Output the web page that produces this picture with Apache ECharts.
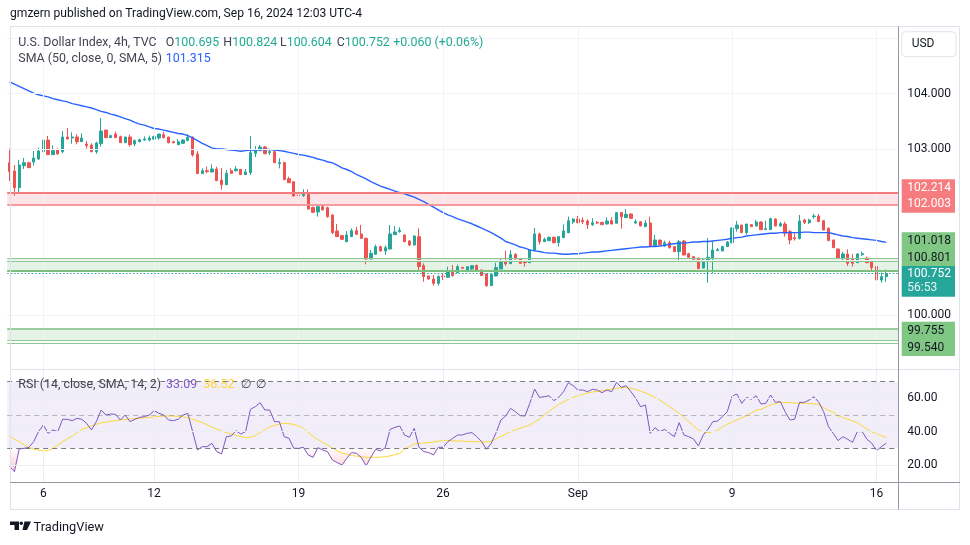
<!DOCTYPE html>
<html><head><meta charset="utf-8">
<script src="https://cdn.jsdelivr.net/npm/echarts@6/dist/echarts.min.js"></script>
<style>html,body{margin:0;padding:0;background:#fff}#c{width:970px;height:545px}</style>
</head><body><div id="c"></div>
<script>
// ---------------- DATA ----------------
const openP = [
102.753,102.603,102.302,102.699,102.753,102.765,102.820,102.952,103.162,102.898,
102.982,102.952,103.217,103.199,103.217,103.132,103.090,103.072,102.952,103.096,
103.343,103.205,103.271,103.223,103.114,103.217,103.090,103.132,103.162,103.162,
103.180,103.199,103.259,103.217,103.132,103.078,103.102,103.156,103.217,102.910,
102.555,102.609,102.585,102.639,102.440,102.356,102.609,102.609,102.633,102.537,
102.573,102.922,102.970,103.036,102.934,102.952,102.735,102.753,102.464,102.410,
102.170,102.158,102.182,101.947,101.863,101.959,101.941,101.809,101.520,101.436,
101.327,101.418,101.526,101.466,101.388,101.014,101.099,101.237,101.159,101.195,
101.454,101.508,101.448,101.339,101.267,101.418,100.894,100.708,100.654,100.575,
100.702,100.684,100.798,100.768,100.864,100.786,100.834,100.900,100.816,100.744,
100.533,100.708,100.834,100.978,100.930,101.099,101.020,100.966,100.948,101.165,
101.466,101.327,101.345,101.406,101.309,101.400,101.490,101.682,101.736,101.712,
101.700,101.634,101.676,101.676,101.646,101.706,101.658,101.851,101.761,101.827,
101.664,101.688,101.598,101.664,101.255,101.357,101.249,101.309,101.237,101.147,
101.339,101.111,101.057,101.032,100.852,100.984,101.032,101.165,101.159,101.237,
101.309,101.562,101.628,101.490,101.634,101.610,101.682,101.544,101.544,101.736,
101.610,101.646,101.508,101.400,101.382,101.718,101.670,101.779,101.791,101.706,
101.568,101.357,101.195,101.032,101.105,101.014,100.948,101.093,101.032,100.966,
100.876,100.635,100.695];
const highP = [
103.012,102.711,102.801,102.838,102.771,102.964,103.024,103.193,103.235,103.066,
103.012,103.325,103.379,103.301,103.265,103.283,103.144,103.102,103.132,103.560,
103.343,103.259,103.313,103.241,103.223,103.259,103.174,103.187,103.229,103.241,
103.241,103.271,103.313,103.217,103.150,103.180,103.174,103.271,103.223,102.964,
102.651,102.681,102.723,102.681,102.657,102.621,102.651,102.693,102.639,102.639,
103.235,103.054,103.072,103.054,102.982,102.964,102.832,102.771,102.501,102.410,
102.182,102.272,102.272,101.959,101.983,102.001,101.959,101.821,101.646,101.448,
101.520,101.568,101.598,101.628,101.400,101.177,101.273,101.255,101.261,101.628,
101.610,101.586,101.460,101.357,101.442,101.568,100.936,100.714,100.726,100.714,
100.744,100.876,100.906,100.912,100.864,100.882,100.894,100.912,100.828,100.756,
100.744,100.948,101.020,101.165,101.177,101.117,101.032,100.972,101.189,101.574,
101.490,101.400,101.418,101.418,101.430,101.640,101.779,101.749,101.791,101.767,
101.730,101.749,101.700,101.676,101.767,101.767,101.863,101.863,101.917,101.833,
101.730,101.694,101.718,101.779,101.448,101.357,101.345,101.345,101.237,101.357,
101.357,101.129,101.063,101.038,101.014,101.393,101.327,101.213,101.255,101.339,
101.586,101.700,101.628,101.646,101.646,101.718,101.694,101.706,101.761,101.749,
101.682,101.688,101.538,101.478,101.809,101.742,101.742,101.827,101.827,101.718,
101.586,101.363,101.201,101.147,101.189,101.105,101.117,101.147,101.057,100.984,
100.894,100.768,100.824];
const lowP = [
102.422,102.158,102.212,102.639,102.657,102.699,102.801,102.922,102.892,102.892,
102.904,102.922,103.180,103.096,103.084,103.126,103.006,102.940,102.916,103.042,
103.199,103.199,103.199,103.108,103.108,103.042,103.054,103.120,103.150,103.138,
103.162,103.168,103.193,103.102,103.102,103.072,103.096,103.138,102.862,102.555,
102.549,102.561,102.579,102.422,102.266,102.350,102.549,102.591,102.537,102.531,
102.531,102.856,102.964,102.904,102.892,102.747,102.651,102.440,102.386,102.140,
102.007,102.134,101.905,101.851,101.779,101.893,101.761,101.466,101.412,101.363,
101.315,101.412,101.448,101.382,100.918,101.008,101.093,101.153,101.087,101.189,
101.448,101.490,101.315,101.249,101.261,100.816,100.605,100.635,100.533,100.533,
100.636,100.678,100.696,100.762,100.846,100.780,100.804,100.792,100.708,100.515,
100.527,100.702,100.828,100.894,100.924,101.008,100.930,100.876,100.942,101.159,
101.279,101.321,101.339,101.297,101.237,101.394,101.478,101.646,101.658,101.646,
101.556,101.610,101.646,101.628,101.640,101.640,101.652,101.562,101.755,101.743,
101.646,101.604,101.592,101.225,101.249,101.267,101.237,101.201,101.141,100.966,
101.081,101.039,101.002,100.834,100.846,100.587,100.756,101.159,101.153,101.231,
101.297,101.508,101.484,101.454,101.592,101.604,101.538,101.544,101.538,101.604,
101.598,101.418,101.279,101.345,101.370,101.646,101.646,101.743,101.682,101.532,
101.339,101.213,101.026,100.996,100.888,100.876,100.942,101.069,100.936,100.798,
100.629,100.587,100.604];
const closeP = [
102.591,102.302,102.711,102.753,102.663,102.838,102.964,103.162,102.898,102.970,
102.910,103.217,103.180,103.217,103.132,103.199,103.060,102.952,103.108,103.325,
103.205,103.241,103.205,103.114,103.217,103.078,103.150,103.168,103.180,103.199,
103.223,103.271,103.205,103.114,103.114,103.132,103.162,103.211,102.892,102.555,
102.609,102.591,102.639,102.428,102.356,102.561,102.561,102.639,102.537,102.585,
102.934,102.982,103.036,102.916,102.952,102.753,102.753,102.446,102.392,102.152,
102.158,102.212,101.917,101.857,101.959,101.899,101.779,101.490,101.418,101.369,
101.448,101.526,101.460,101.388,101.014,101.117,101.237,101.159,101.219,101.466,
101.502,101.532,101.327,101.267,101.430,100.876,100.696,100.654,100.575,100.702,
100.690,100.798,100.714,100.876,100.846,100.876,100.894,100.804,100.714,100.533,
100.738,100.858,100.984,100.924,101.093,101.014,100.936,100.948,101.177,101.466,
101.327,101.369,101.406,101.309,101.418,101.520,101.706,101.736,101.670,101.688,
101.634,101.670,101.664,101.634,101.700,101.646,101.851,101.779,101.821,101.749,
101.688,101.610,101.664,101.249,101.357,101.273,101.309,101.219,101.147,101.327,
101.087,101.045,101.008,100.840,100.996,101.045,101.177,101.183,101.237,101.321,
101.574,101.628,101.490,101.646,101.598,101.682,101.544,101.562,101.742,101.610,
101.652,101.478,101.357,101.382,101.700,101.670,101.718,101.791,101.688,101.538,
101.345,101.219,101.032,101.105,100.936,100.936,101.105,101.111,100.948,100.858,
100.635,100.696,100.752];
const sma50 = [
104.21,104.17,104.13,104.09,104.05,104.01,103.98,103.96,103.94,103.91,
103.89,103.87,103.85,103.82,103.80,103.78,103.76,103.74,103.71,103.68,
103.66,103.63,103.61,103.58,103.55,103.52,103.48,103.45,103.43,103.40,
103.37,103.36,103.34,103.32,103.30,103.28,103.27,103.24,103.20,103.15,
103.10,103.06,103.02,103.00,103.00,102.99,102.98,102.97,102.96,102.97,
102.98,102.98,102.99,102.99,102.99,102.98,102.97,102.96,102.94,102.92,
102.90,102.89,102.87,102.85,102.82,102.80,102.77,102.75,102.71,102.66,
102.63,102.59,102.54,102.50,102.46,102.41,102.37,102.33,102.30,102.27,
102.24,102.21,102.19,102.16,102.13,102.09,102.05,102.00,101.95,101.90,
101.85,101.81,101.78,101.74,101.71,101.68,101.65,101.61,101.57,101.53,
101.49,101.44,101.39,101.33,101.30,101.27,101.23,101.21,101.18,101.16,
101.15,101.13,101.12,101.12,101.11,101.10,101.10,101.11,101.11,101.12,
101.13,101.14,101.14,101.15,101.16,101.17,101.18,101.19,101.20,101.21,
101.22,101.23,101.23,101.24,101.24,101.25,101.26,101.28,101.29,101.30,
101.30,101.31,101.32,101.32,101.33,101.33,101.34,101.35,101.36,101.37,
101.39,101.40,101.41,101.43,101.44,101.45,101.46,101.47,101.48,101.48,
101.49,101.49,101.49,101.49,101.49,101.50,101.50,101.49,101.49,101.49,
101.49,101.47,101.45,101.43,101.42,101.40,101.39,101.38,101.37,101.36,
101.35,101.33,101.315];
const rsi14 = [
19,16,29.6,30,30.5,34,40,44,39,41,
40,47.4,47.4,46.6,48,47.4,45,41,46,53,
50,50.6,50.4,47,50,46,47.4,48.6,49,50,
52.6,51,50,47,46.6,47.4,50,51,40,29,
31,31,33,28,26.6,37,37.4,40.6,38.6,40,
53.4,55,57.4,53,53,46,46,37,36,30,
30,30.6,26,24.6,30.4,29,28,23,21.4,20,
24,27.4,27,24.6,19.4,24.6,29.4,28.4,30.4,41.4,
42.6,43.4,38,36.6,42,30.6,28,27.4,26,30.6,
30.6,34,36,38,38,39,39.4,37,34,29.4,
33,39.4,47,49.4,54,52,49.6,49.4,57,65.6,
60.6,61,61.6,58.6,60.6,64,69.4,67.6,65,65,
64,65.4,65,63.4,65,64,69.6,66.6,67.6,64,
60,55,56,39,42.4,40,41.4,39,37,45.4,
38,37,35.6,31.4,38,41.4,46,46.4,49,52,
61.4,62.6,57,60.6,59.4,61.6,56.6,57,62,57.6,
58,52,47,47.5,57.6,57.6,59,61,57.6,52,
43,39,34.6,37,35.4,33.6,40,40,35.4,33,
28.6,31,33.09];
const rsiSma14 = [
37.4,35.5,34,32,30.6,29.5,28.8,28.5,28.6,30,
32,34,35.8,37.2,39.4,41.3,42.4,43.4,44.4,45.3,
45.7,46.2,46.6,47,47.3,47.6,47.8,48,48.3,48.5,
48.9,49.2,49.4,49.4,49.4,49.2,49,48.3,47.4,46.4,
45.4,44.1,42.8,41.5,40.4,39.4,38.6,37.8,37,36.5,
36.6,37.6,39.5,41,43,43.8,44.5,45,44.8,44.3,
43.4,42,39.5,37.3,35.2,33.5,32,30.2,28.5,27.2,
26.3,25.7,25.3,25,24.6,24.6,24.6,24.7,25,25.4,
26.2,27,29.4,31,32.5,33,33.2,33.4,33.8,34.3,
34.6,34.6,34.5,34.4,34.3,34.1,34,33.9,33.8,33.9,
34.2,35.6,37,38.5,40,41,42,43,44,45.8,
47.4,50,52.2,54.4,56.3,57.8,59.4,60.5,61.5,62.4,
63.2,63.8,64.2,64.6,65.1,65.6,66,66.4,66.6,66,
65.3,64.3,63.3,62,60.6,59,57,55,53,51,
48.5,46,43.5,41,40,39.4,40,40.8,42.8,44.5,
45.8,47,48.3,49.7,51.3,52.8,53.4,54.8,56,57,
57.6,57.5,57.4,57.2,57,57,57,56.7,56.3,54.5,
52.8,51.6,49.6,48.5,47.5,46.5,45.4,43.5,41.6,40,
38.7,37.5,36.52];

const xTickIdx  = [7, 30, 60, 90, 118, 150, 180];
const xTickText = ['6', '12', '19', '26', 'Sep', '9', '16'];
const priceTickLabels = [100, 103, 104];
const priceGridLevels = [100, 101, 102, 103, 104, 105];
const rsiTickLabels = [20, 40, 60];
const rsiBands = [30, 50, 70];
const redZone = [102.214, 102.003];
const greenZone1 = [101.018, 100.801];
const greenZone1Inner = 100.975;
const greenZone2 = [99.755, 99.540];
const greenZone2Inner = 99.505;
const lastOHLC = [100.695, 100.824, 100.604, 100.752];
const changeText = '+0.060 (+0.06%)';
const countdown = '56:53';
const headerText = 'gmzern published on TradingView.com, Sep 16, 2024 12:03 UTC-4';
const titleText = 'U.S. Dollar Index, 4h, TVC';
const smaTitle = 'SMA (50, close, 0, SMA, 5)';
const rsiTitle = 'RSI (14, close, SMA, 14, 2)';

// ---------------- BUILD ----------------
const N = openP.length;
const categories = Array.from({length: N + 2}, (_, i) => String(i));
const candleData = openP.map((o, i) => [o, closeP[i], lowP[i], highP[i]]);
const rsiBelow = rsi14.map(v => Math.min(v, 30));
const FONT = 'Roboto, "Noto Sans", "DejaVu Sans", sans-serif';
const UP = '#26a69a', DOWN = '#ef5350';
const GL = 7.19, GW = 891.1;
const LEG = 12.4;

const noLabel = {show: false};
const baseMark = {silent: true, symbol: ['none', 'none'], label: noLabel, animation: false, emphasis: {disabled: true}};

function hLine(v, color, width, type) { return {yAxis: v, lineStyle: {color, width, type: type || 'solid'}}; }
function vLine(i, color) { return {xAxis: i, lineStyle: {color, width: 1, type: 'solid'}}; }

const option = {
  animation: false,
  backgroundColor: '#ffffff',
  grid: [
    {left: GL, top: 26.7, width: GW, height: 342.6, outerBoundsMode: 'none', containLabel: false},
    {left: GL, top: 369.3, width: GW, height: 113, outerBoundsMode: 'none', containLabel: false}
  ],
  xAxis: [
    {type: 'category', gridIndex: 0, data: categories, boundaryGap: true,
     axisLine: {show: false}, axisTick: {show: false}, axisLabel: {show: false}, splitLine: {show: false}},
    {type: 'category', gridIndex: 1, data: categories, boundaryGap: true,
     axisLine: {show: false}, axisTick: {show: false}, splitLine: {show: false},
     axisLabel: {show: true, interval: (i) => xTickIdx.indexOf(i) >= 0,
       formatter: (v, i) => { const k = xTickIdx.indexOf(Number(v)); return k >= 0 ? xTickText[k] : ''; },
       color: '#131722', fontSize: 12, fontFamily: FONT, margin: 6}}
  ],
  yAxis: [
    {type: 'value', gridIndex: 0, position: 'right', min: 99.023, max: 105.208,
     axisLine: {show: false}, axisTick: {show: false}, splitLine: {show: false},
     axisLabel: {customValues: priceTickLabels, formatter: v => Number(v).toFixed(3),
       color: '#131722', fontSize: 12, fontFamily: FONT, margin: 9, padding: [3, 0, 0, 0]}},
    {type: 'value', gridIndex: 1, position: 'right', min: 9.58, max: 77.45,
     axisLine: {show: false}, axisTick: {show: false}, splitLine: {show: false},
     axisLabel: {customValues: rsiTickLabels, formatter: v => Number(v).toFixed(2),
       color: '#131722', fontSize: 12, fontFamily: FONT, margin: 9, padding: [4, 0, 0, 0]}}
  ],
  series: [
    {type: 'line', xAxisIndex: 0, yAxisIndex: 0, data: [], z: 0, silent: true,
     markLine: Object.assign({}, baseMark, {data: [
       ...priceGridLevels.map(v => hLine(v, '#f0f3fa', 1)),
       ...xTickIdx.map(i => vLine(i, '#f0f3fa'))]})},
    {type: 'line', xAxisIndex: 0, yAxisIndex: 0, data: [], z: 1, silent: true,
     markArea: {silent: true, animation: false, label: noLabel, emphasis: {disabled: true}, data: [
       [{yAxis: redZone[0], itemStyle: {color: 'rgba(242,54,69,0.13)'}}, {yAxis: redZone[1]}],
       [{yAxis: greenZone1[0], itemStyle: {color: 'rgba(76,175,80,0.15)'}}, {yAxis: greenZone1[1]}],
       [{yAxis: greenZone2[0], itemStyle: {color: 'rgba(76,175,80,0.15)'}}, {yAxis: greenZone2[1]}]
     ]},
     markLine: Object.assign({}, baseMark, {data: [
       hLine(redZone[0], '#f47c7f', 2.2), hLine(redZone[1], '#f47c7f', 1.5),
       hLine(greenZone1[0], '#8fc891', 1), hLine(greenZone1Inner, '#8fc891', 1), hLine(greenZone1[1], '#7dbf7f', 2.2),
       hLine(greenZone2[0], '#7dbf7f', 1.5), hLine(greenZone2[1], '#8fc891', 1), hLine(greenZone2Inner, '#8fc891', 1)
     ]})},
    {type: 'candlestick', xAxisIndex: 0, yAxisIndex: 0, data: candleData, z: 2, barWidth: 2.8,
     itemStyle: {color: UP, color0: DOWN, borderColor: UP, borderColor0: DOWN, borderWidth: 1},
     markLine: Object.assign({}, baseMark, {data: [hLine(lastOHLC[3], UP, 1, [1.5, 2])]})},
    {type: 'line', xAxisIndex: 0, yAxisIndex: 0, data: sma50, z: 3, showSymbol: false, symbol: 'none',
     lineStyle: {color: '#2962ff', width: 1.4}, silent: true},
    {type: 'line', xAxisIndex: 1, yAxisIndex: 1, data: [], z: 0, silent: true,
     markArea: {silent: true, animation: false, label: noLabel, emphasis: {disabled: true},
       data: [[{yAxis: rsiBands[0], itemStyle: {color: 'rgba(126,87,194,0.1)'}}, {yAxis: rsiBands[2]}]]},
     markLine: Object.assign({}, baseMark, {data: [
       ...rsiTickLabels.map(v => hLine(v, '#eceef5', 1)),
       ...xTickIdx.map(i => vLine(i, '#eceef5')),
       hLine(rsiBands[2], '#787b86', 1, [5, 4]),
       hLine(rsiBands[1], 'rgba(120,123,134,0.5)', 1, [5, 4]),
       hLine(rsiBands[0], '#787b86', 1, [5, 4])
     ]})},
    {type: 'line', xAxisIndex: 1, yAxisIndex: 1, data: rsiBelow, z: 1, showSymbol: false, symbol: 'none',
     silent: true, lineStyle: {width: 0, opacity: 0},
     areaStyle: {origin: 30, color: new echarts.graphic.LinearGradient(0, 0, 0, 1, [
       {offset: 0, color: 'rgba(242,54,69,0.02)'}, {offset: 1, color: 'rgba(242,54,69,0.35)'}])}},
    {type: 'line', xAxisIndex: 1, yAxisIndex: 1, data: rsiSma14, z: 2, showSymbol: false, symbol: 'none',
     silent: true, lineStyle: {color: '#fdd835', width: 1}},
    {type: 'line', xAxisIndex: 1, yAxisIndex: 1, data: rsi14, z: 3, showSymbol: false, symbol: 'none',
     silent: true, lineStyle: {color: '#7e57c2', width: 1}}
  ]
};

// ---------------- graphic overlay (frames, legends, labels) ----------------
const gfx = [];
function line(x1, y1, x2, y2, stroke) {
  gfx.push({type: 'line', silent: true, z: 90, shape: {x1, y1, x2, y2}, style: {stroke, lineWidth: 1}});
}
function text(x, y, str, fill, size, extra) {
  gfx.push({type: 'text', silent: true, z: 100, x, y,
    style: Object.assign({text: str, fill, fontSize: size, fontFamily: FONT,
      align: 'left', verticalAlign: 'middle', textAlign: 'left', textVerticalAlign: 'middle'}, extra || {})});
}
function rich(x, y, str, richDef, size) {
  const r = {};
  for (const k in richDef) r[k] = {fill: richDef[k], fontSize: size, fontFamily: FONT};
  gfx.push({type: 'text', silent: true, z: 100, x, y,
    style: {text: str, rich: r, fontSize: size, fontFamily: FONT,
      align: 'left', verticalAlign: 'middle', textAlign: 'left', textVerticalAlign: 'middle'}});
}
function box(x, y, w, h, fill, opt) {
  gfx.push({type: 'rect', silent: true, z: 95, shape: Object.assign({x, y, width: w, height: h}, opt && opt.r ? {r: opt.r} : {}),
    style: Object.assign({fill}, opt && opt.stroke ? {stroke: opt.stroke, lineWidth: 1} : {})});
}

line(10, 26.5, 960, 26.5, '#e0e3eb');
line(10.5, 26.5, 10.5, 509.5, '#e0e3eb');
line(959.5, 26.5, 959.5, 509.5, '#e0e3eb');
line(10, 509.5, 960, 509.5, '#e0e3eb');
line(10, 369.5, 960, 369.5, '#e0e3eb');
line(10, 482.5, 960, 482.5, '#9598a1');
line(898.5, 26.5, 898.5, 509.5, '#9598a1');

text(10, 14, headerText, '#131722', 12.1);
text(18.3, 42.7, titleText, '#434651', LEG);
const G = '#434651', T = '#22ab94';
rich(165.7, 42.7, '{l|O}{v|' + lastOHLC[0].toFixed(3) + '}', {l: G, v: T}, LEG);
rich(223.3, 42.7, '{l|H}{v|' + lastOHLC[1].toFixed(3) + '}', {l: G, v: T}, LEG);
rich(280.0, 42.7, '{l|L}{v|' + lastOHLC[2].toFixed(3) + '}', {l: G, v: T}, LEG);
rich(336.7, 42.7, '{l|C}{v|' + lastOHLC[3].toFixed(3) + '}', {l: G, v: T}, LEG);
text(393.3, 42.7, changeText, T, LEG);
text(18.3, 59.3, smaTitle, G, LEG);
text(165.7, 59.3, sma50[N - 1].toFixed(3), '#2962ff', LEG);
text(18.3, 385, rsiTitle, G, LEG);
text(166, 385, rsi14[N - 1].toFixed(2), '#7e57c2', LEG);
text(203.3, 385, rsiSma14[N - 1].toFixed(2), '#fdd835', LEG);
text(240.7, 385, '\u2205', G, LEG);
text(255.7, 385, '\u2205', G, LEG);

box(901.7, 31.7, 54.3, 25, '#ffffff', {r: 4, stroke: '#e0e3eb'});
text(911.7, 44.2, 'USD', '#131722', 12);

box(901.7, 179.3, 53.3, 33.4, '#f77c80');
text(907.3, 187.7, redZone[0].toFixed(3), '#ffffff', 12);
text(907.3, 204.3, redZone[1].toFixed(3), '#ffffff', 12);
box(901.7, 232.3, 53.3, 33.7, '#81c784');
text(907.3, 240.7, greenZone1[0].toFixed(3), '#131722', 12);
text(907.3, 257.7, greenZone1[1].toFixed(3), '#131722', 12);
box(901.7, 266, 53.3, 30.7, UP);
text(907.3, 274.3, lastOHLC[3].toFixed(3), '#ffffff', 12);
text(907.3, 288, countdown, '#e6f5f3', 12);
box(901.7, 321.7, 53.3, 34.3, '#81c784');
text(907.3, 331, greenZone2[0].toFixed(3), '#131722', 12);
text(907.3, 348.3, greenZone2[1].toFixed(3), '#131722', 12);

gfx.push({type: 'polygon', silent: true, z: 100, shape: {points: [[10,521.5],[19,521.5],[19,530],[14.5,530],[14.5,525],[10,525]]}, style: {fill: '#131722'}});
gfx.push({type: 'circle', silent: true, z: 100, shape: {cx: 21.3, cy: 523.2, r: 1.7}, style: {fill: '#131722'}});
gfx.push({type: 'polygon', silent: true, z: 100, shape: {points: [[24.5,521.5],[31,521.5],[27,530],[22.5,530]]}, style: {fill: '#131722'}});
text(33.5, 527.5, 'TradingView', '#131722', 12.8);

option.graphic = {elements: gfx};

const chart = echarts.init(document.getElementById('c'), null, {renderer: 'canvas'});
chart.setOption(option);
</script>
</body></html>
